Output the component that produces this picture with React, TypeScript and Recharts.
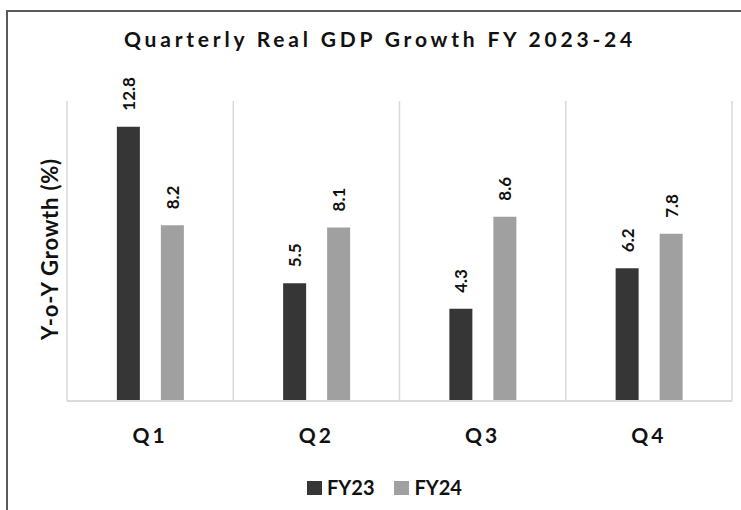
import { BarChart, Bar, XAxis, YAxis, CartesianGrid, LabelList } from "recharts";

const quarters = ["Q1", "Q2", "Q3", "Q4"];
const fy23 = [12.8, 5.5, 4.3, 6.2];
const fy24 = [8.2, 8.1, 8.6, 7.8];
const bandEdges = [0, 1, 2, 3, 4];

const data = quarters.map((q, i) => ({
  quarter: q,
  FY23: fy23[i],
  FY24: fy24[i],
  pos: i + 0.5,
}));

const FONT = "Lato, 'Open Sans', sans-serif";
const DARK = "#363636";
const GRAY = "#a0a0a0";

const ValueLabel = (props: any) => {
  const { x, y, width, value } = props;
  const cx = x + width / 2;
  const cy = y - 16;
  return (
    <text
      x={cx}
      y={cy}
      transform={`rotate(-90 ${cx} ${cy})`}
      textAnchor="start"
      dominantBaseline="central"
      fontSize={17}
      fontWeight={700}
      fontFamily={FONT}
      fill="#111"
    >
      {Number(value).toFixed(1)}
    </text>
  );
};

const QuarterTick = (props: any) => {
  const { x, y, payload } = props;
  return (
    <text
      x={x}
      y={y + 42}
      textAnchor="middle"
      fontSize={21}
      fontWeight={700}
      fontFamily={FONT}
      letterSpacing={3}
      fill="#111"
    >
      {payload.value}
    </text>
  );
};

export default function App() {
  return (
    <div
      style={{
        position: "absolute",
        left: 0,
        top: 0,
        width: 741,
        height: 510,
        background: "#fff",
        overflow: "hidden",
        fontFamily: FONT,
        color: "#111",
      }}
    >
      <div
        style={{
          position: "absolute",
          left: 6,
          top: 10,
          width: 760,
          height: 520,
          borderTop: "2px solid #5a5a5a",
          borderLeft: "2px solid #5a5a5a",
        }}
      />
      <div
        style={{
          position: "absolute",
          left: 380,
          top: 26,
          transform: "translateX(-50%)",
          whiteSpace: "nowrap",
          fontSize: 21,
          fontWeight: 700,
          letterSpacing: 3.8,
        }}
      >
        Quarterly Real GDP Growth FY 2023-24
      </div>
      <div
        style={{
          position: "absolute",
          left: 49,
          top: 249,
          transform: "translate(-50%, -50%) rotate(-90deg)",
          whiteSpace: "nowrap",
          fontSize: 22,
          fontWeight: 700,
          letterSpacing: 0.8,
        }}
      >
        Y-o-Y Growth (%)
      </div>
      <div style={{ position: "absolute", left: 0, top: 0 }}>
        <BarChart
          width={741}
          height={510}
          data={data}
          margin={{ top: 101, right: 9, bottom: 69, left: 67 }}
          barCategoryGap="30%"
          barGap={21}
        >
          <XAxis
            xAxisId="edges"
            type="number"
            dataKey="pos"
            domain={[0, 4]}
            ticks={bandEdges}
            hide
          />
          <CartesianGrid
            xAxisId="edges"
            horizontal={false}
            stroke="#d9d9d9"
            strokeWidth={1.5}
          />
          <XAxis
            dataKey="quarter"
            axisLine={{ stroke: "#d9d9d9", strokeWidth: 2 }}
            tickLine={false}
            tickSize={0}
            tickMargin={0}
            height={40}
            tick={<QuarterTick />}
          />
          <YAxis hide domain={[0, 14]} />
          <Bar dataKey="FY23" fill={DARK} isAnimationActive={false}>
            <LabelList dataKey="FY23" content={<ValueLabel />} />
          </Bar>
          <Bar dataKey="FY24" fill={GRAY} isAnimationActive={false}>
            <LabelList dataKey="FY24" content={<ValueLabel />} />
          </Bar>
        </BarChart>
      </div>
      <div
        style={{
          position: "absolute",
          left: 307,
          top: 475,
          display: "flex",
          alignItems: "center",
          fontSize: 20,
          fontWeight: 700,
        }}
      >
        {[
          { name: "FY23", color: DARK },
          { name: "FY24", color: GRAY },
        ].map((s, i) => (
          <div
            key={s.name}
            style={{ display: "flex", alignItems: "center", marginRight: i === 0 ? 20 : 0 }}
          >
            <span
              style={{ display: "inline-block", width: 15, height: 14, background: s.color, marginRight: 5, marginTop: 2 }}
            />
            <span>{s.name}</span>
          </div>
        ))}
      </div>
    </div>
  );
}
